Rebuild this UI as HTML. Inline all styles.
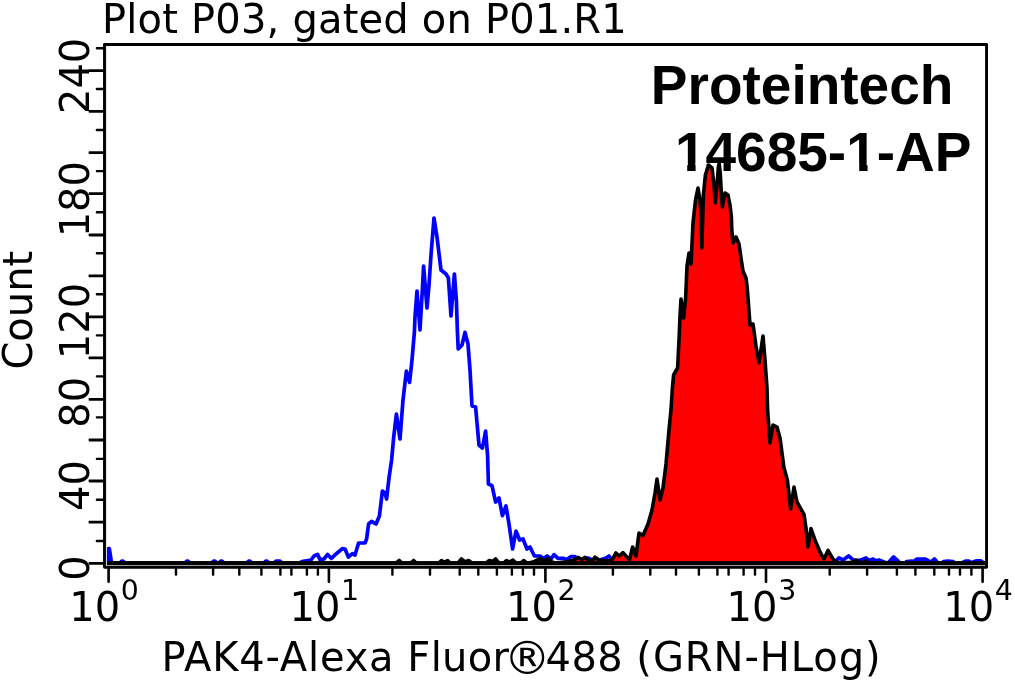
<!DOCTYPE html>
<html><head><meta charset="utf-8"><title>Plot P03, gated on P01.R1</title>
<style>
html,body{margin:0;padding:0;background:#fff;}
svg{display:block;}
text{font-family:"DejaVu Sans","Liberation Sans",sans-serif;fill:#000;}
.b{font-family:"Liberation Sans",sans-serif;font-weight:bold;}
</style></head><body>
<svg width="1015" height="682" viewBox="0 0 1015 682">
<rect width="1015" height="682" fill="#fff"/>
<text id="title" x="102" y="33.3" font-size="40" textLength="524.8" lengthAdjust="spacing">Plot P03, gated on P01.R1</text>
<text id="b1" class="b" x="650.8" y="103.7" font-size="55">Proteintech</text>
<text id="b2" class="b" x="674.9" y="170.8" font-size="55">14685-1-AP</text>
<rect x="676" y="163.2" width="11.2" height="8" fill="#fff"/><rect x="695.6" y="163.2" width="10" height="8" fill="#fff"/><rect x="848" y="163.2" width="11.2" height="8" fill="#fff"/><rect x="867.6" y="163.2" width="9.4" height="8" fill="#fff"/>
<polyline points="108.3,563.3 108.3,548.5 109.3,548.5 111.6,563.3 119.4,563.3 121.8,561.0 123.0,561.0 125.4,563.3 184.4,563.3 186.8,561.0 188.0,561.0 190.4,563.3 211.3,563.3 213.7,561.0 214.9,561.0 217.3,563.3 218.4,563.3 220.8,561.0 222.0,561.0 224.4,563.3 246.3,563.3 248.7,561.0 249.9,561.0 252.3,563.3 263.4,563.3 265.8,561.0 267.0,561.0 269.4,563.3 273.5,563.3 276.0,561.0 280.0,561.0 282.5,563.3 299.0,563.3 302.0,561.5 311.0,560.0 314.0,556.0 317.6,554.4 320.0,559.6 324.0,559.0 327.6,554.4 331.4,558.4 336.0,554.0 342.4,548.6 345.0,549.0 348.4,557.0 352.4,553.6 355.0,555.0 358.6,543.0 365.0,543.0 366.6,539.0 368.6,524.0 371.6,521.4 376.0,524.0 379.4,516.0 382.4,491.0 385.0,493.0 386.6,499.0 389.0,478.0 391.6,460.0 393.6,438.0 396.4,414.0 400.0,439.0 403.0,400.0 406.4,371.0 409.6,382.4 412.0,360.0 414.4,332.0 415.0,317.0 417.0,291.0 420.0,330.0 422.4,289.0 423.6,266.0 427.0,308.0 429.0,285.0 431.0,255.0 434.0,218.0 437.0,237.0 441.0,270.0 446.0,274.0 448.4,278.0 451.0,316.0 454.4,274.0 456.4,301.0 457.4,331.0 458.2,349.0 462.0,345.0 465.0,332.4 468.0,344.0 470.0,370.0 472.0,406.0 475.6,407.0 479.0,445.0 482.4,448.0 485.6,431.0 487.6,456.0 488.4,484.0 492.0,485.6 495.6,502.0 499.0,498.0 502.4,515.6 506.0,506.0 509.0,524.0 512.6,549.0 516.0,531.0 519.6,540.0 523.0,539.0 527.0,549.0 530.0,547.0 534.4,556.0 540.0,556.0 543.6,558.4 547.0,556.0 551.0,559.0 554.0,554.6 558.0,558.4 564.0,558.4 567.0,559.6 571.0,556.6 575.0,556.6 579.0,560.0 588.0,558.0 592.0,560.0 600.0,560.0 606.0,558.0 609.0,556.0 612.0,560.0 615.0,563.3 833.0,563.3 836.0,560.9 839.0,557.9 843.0,559.9 848.6,555.9 853.0,559.9 857.0,560.9 861.0,559.9 866.0,557.9 869.0,560.4 873.0,559.1 876.0,560.9 879.0,560.1 884.0,561.9 886.5,563.3 888.5,562.4 893.5,556.9 899.0,561.9 901.0,563.3 905.5,563.3 906.5,561.5 912.0,561.1 913.5,562.1 915.0,560.4 917.0,559.1 925.5,559.1 928.0,560.4 930.0,562.4 931.5,561.4 934.5,559.0 937.5,562.4 939.0,563.3 942.5,563.3 943.5,561.5 948.0,561.1 953.0,561.5 954.5,563.3 962.5,563.3 963.5,561.9 966.0,561.0 969.0,561.0 970.5,562.4 971.8,563.3 973.0,562.0 976.0,560.9 981.0,560.9 983.0,562.4 985.0,563.3" fill="none" stroke="#0000ff" stroke-width="3.7" stroke-linejoin="round" stroke-linecap="round"/>
<polygon points="853.0,559.9 857.0,560.9 861.0,559.9 866.0,557.9 869.0,560.4 873.0,559.1 876.0,560.9 879.0,560.1 884.0,561.9 886.5,563.3 888.5,562.4 893.5,556.9 899.0,561.9 901.0,563.3 905.5,563.3 906.5,561.5 912.0,561.1 913.5,562.1 915.0,560.4 917.0,559.1 925.5,559.1 928.0,560.4 930.0,562.4 931.5,561.4 934.5,559.0 937.5,562.4 939.0,563.3 942.5,563.3 943.5,561.5 948.0,561.1 953.0,561.5 954.5,563.3 962.5,563.3 963.5,561.9 966.0,561.0 969.0,561.0 970.5,562.4 971.8,563.3 973.0,562.0 976.0,560.9 981.0,560.9 983.0,562.4 985.0,563.3 985.0,563.3 850.0,563.3" fill="#0000ff" stroke="none"/>
<polygon points="107.0,563.2 396.0,563.2 399.3,560.5 402.0,563.2 410.5,563.2 413.6,560.5 416.5,563.2 438.5,563.2 441.4,560.5 444.5,562.0 447.6,560.5 450.5,563.2 458.0,563.2 461.4,559.0 465.0,562.0 468.6,560.5 472.0,563.2 486.0,563.2 489.3,560.5 492.5,561.5 495.7,559.0 499.0,563.2 503.5,563.2 506.4,560.5 509.5,562.0 512.9,560.0 516.0,563.2 520.5,563.2 523.6,560.5 527.0,563.2 533.0,562.0 540.0,558.5 544.0,561.0 548.0,558.5 552.0,562.0 556.0,563.2 568.0,561.5 574.0,560.0 578.0,557.4 581.5,559.5 585.0,557.4 589.0,560.8 592.0,561.2 595.0,557.2 599.0,560.0 603.0,560.5 607.0,561.0 612.0,560.0 616.0,553.0 619.0,556.0 623.0,552.6 626.0,556.0 629.6,559.6 632.6,547.0 636.0,556.0 639.0,533.0 643.0,535.5 648.0,524.0 652.0,510.0 655.0,493.0 657.0,479.0 660.0,500.0 663.0,488.0 666.0,464.0 669.0,430.0 671.0,410.0 672.4,388.0 673.6,375.0 677.6,368.0 679.0,340.0 680.0,316.0 681.0,299.0 683.6,318.0 685.6,298.0 686.4,280.0 687.0,266.0 689.0,253.0 691.0,264.0 693.0,223.0 695.5,200.0 698.0,188.0 700.0,200.0 701.4,217.0 701.8,248.0 703.4,195.0 705.4,175.0 708.4,165.0 712.0,168.0 714.0,185.0 715.2,203.0 717.0,185.0 718.4,167.0 719.2,163.5 720.4,175.0 721.4,195.0 722.4,207.0 725.0,193.0 728.0,195.0 730.0,205.0 731.4,217.0 731.8,230.0 733.0,243.0 736.0,237.0 739.0,244.0 741.0,258.0 743.0,271.0 746.0,278.0 747.0,286.0 748.0,298.0 750.0,325.0 753.0,324.0 756.0,346.0 759.0,363.0 763.0,336.0 765.0,360.0 767.0,388.0 767.6,410.0 770.0,443.0 773.0,425.0 777.0,427.0 780.0,438.0 784.0,468.0 787.4,480.0 790.6,509.0 794.0,487.0 797.0,502.0 804.0,514.5 806.0,528.0 808.0,547.0 811.0,528.5 815.0,540.0 820.0,552.0 824.0,559.0 828.0,550.4 833.0,559.0 837.0,562.5 852.0,562.5 856.0,560.0 860.0,562.5 864.0,562.5 866.0,561.0 868.0,563.2 985.0,563.2 985.0,563.2 107.0,563.2" fill="#ff0000" stroke="none"/>
<polyline points="107.0,563.2 396.0,563.2 399.3,560.5 402.0,563.2 410.5,563.2 413.6,560.5 416.5,563.2 438.5,563.2 441.4,560.5 444.5,562.0 447.6,560.5 450.5,563.2 458.0,563.2 461.4,559.0 465.0,562.0 468.6,560.5 472.0,563.2 486.0,563.2 489.3,560.5 492.5,561.5 495.7,559.0 499.0,563.2 503.5,563.2 506.4,560.5 509.5,562.0 512.9,560.0 516.0,563.2 520.5,563.2 523.6,560.5 527.0,563.2 533.0,562.0 540.0,558.5 544.0,561.0 548.0,558.5 552.0,562.0 556.0,563.2 568.0,561.5 574.0,560.0 578.0,557.4 581.5,559.5 585.0,557.4 589.0,560.8 592.0,561.2 595.0,557.2 599.0,560.0 603.0,560.5 607.0,561.0 612.0,560.0 616.0,553.0 619.0,556.0 623.0,552.6 626.0,556.0 629.6,559.6 632.6,547.0 636.0,556.0 639.0,533.0 643.0,535.5 648.0,524.0 652.0,510.0 655.0,493.0 657.0,479.0 660.0,500.0 663.0,488.0 666.0,464.0 669.0,430.0 671.0,410.0 672.4,388.0 673.6,375.0 677.6,368.0 679.0,340.0 680.0,316.0 681.0,299.0 683.6,318.0 685.6,298.0 686.4,280.0 687.0,266.0 689.0,253.0 691.0,264.0 693.0,223.0 695.5,200.0 698.0,188.0 700.0,200.0 701.4,217.0 701.8,248.0 703.4,195.0 705.4,175.0 708.4,165.0 712.0,168.0 714.0,185.0 715.2,203.0 717.0,185.0 718.4,167.0 719.2,163.5 720.4,175.0 721.4,195.0 722.4,207.0 725.0,193.0 728.0,195.0 730.0,205.0 731.4,217.0 731.8,230.0 733.0,243.0 736.0,237.0 739.0,244.0 741.0,258.0 743.0,271.0 746.0,278.0 747.0,286.0 748.0,298.0 750.0,325.0 753.0,324.0 756.0,346.0 759.0,363.0 763.0,336.0 765.0,360.0 767.0,388.0 767.6,410.0 770.0,443.0 773.0,425.0 777.0,427.0 780.0,438.0 784.0,468.0 787.4,480.0 790.6,509.0 794.0,487.0 797.0,502.0 804.0,514.5 806.0,528.0 808.0,547.0 811.0,528.5 815.0,540.0 820.0,552.0 824.0,559.0 828.0,550.4 833.0,559.0 837.0,562.5 852.0,562.5 856.0,560.0 860.0,562.5 864.0,562.5 866.0,561.0 868.0,563.2 985.0,563.2" fill="none" stroke="#000" stroke-width="3.6" stroke-linejoin="round" stroke-linecap="butt"/>
<rect x="107" y="561.1" width="878.2" height="3.95" fill="#000"/>
<rect x="106" y="565" width="879.2" height="1" fill="#9c9c9c"/>
<rect x="106" y="46" width="0.9" height="519.5" fill="#e4e4e4"/>
<rect x="104.5" y="44.5" width="882.05" height="522.85" fill="none" stroke="#000" stroke-width="2.9" stroke-linejoin="round"/>
<rect x="88.6" y="69.30" width="15.5" height="2.8" rx="0.8" fill="#000"/>
<rect x="88.6" y="110.00" width="15.5" height="2.8" rx="0.8" fill="#000"/>
<rect x="88.6" y="151.20" width="15.5" height="2.8" rx="0.8" fill="#000"/>
<rect x="88.6" y="192.20" width="15.5" height="2.8" rx="0.8" fill="#000"/>
<rect x="88.6" y="233.60" width="15.5" height="2.8" rx="0.8" fill="#000"/>
<rect x="88.6" y="274.50" width="15.5" height="2.8" rx="0.8" fill="#000"/>
<rect x="88.6" y="315.50" width="15.5" height="2.8" rx="0.8" fill="#000"/>
<rect x="88.6" y="356.50" width="15.5" height="2.8" rx="0.8" fill="#000"/>
<rect x="88.6" y="397.90" width="15.5" height="2.8" rx="0.8" fill="#000"/>
<rect x="88.6" y="438.60" width="15.5" height="2.8" rx="0.8" fill="#000"/>
<rect x="88.6" y="479.60" width="15.5" height="2.8" rx="0.8" fill="#000"/>
<rect x="88.6" y="520.70" width="15.5" height="2.8" rx="0.8" fill="#000"/>
<rect x="88.6" y="561.90" width="15.5" height="2.8" rx="0.8" fill="#000"/>
<rect x="95.8" y="47.10" width="8.2" height="2.4" rx="0.8" fill="#000"/>
<rect x="95.8" y="87.80" width="8.2" height="2.4" rx="0.8" fill="#000"/>
<rect x="95.8" y="128.80" width="8.2" height="2.4" rx="0.8" fill="#000"/>
<rect x="95.8" y="169.90" width="8.2" height="2.4" rx="0.8" fill="#000"/>
<rect x="95.8" y="211.10" width="8.2" height="2.4" rx="0.8" fill="#000"/>
<rect x="95.8" y="252.10" width="8.2" height="2.4" rx="0.8" fill="#000"/>
<rect x="95.8" y="293.10" width="8.2" height="2.4" rx="0.8" fill="#000"/>
<rect x="95.8" y="334.20" width="8.2" height="2.4" rx="0.8" fill="#000"/>
<rect x="95.8" y="375.20" width="8.2" height="2.4" rx="0.8" fill="#000"/>
<rect x="95.8" y="416.20" width="8.2" height="2.4" rx="0.8" fill="#000"/>
<rect x="95.8" y="457.70" width="8.2" height="2.4" rx="0.8" fill="#000"/>
<rect x="95.8" y="498.50" width="8.2" height="2.4" rx="0.8" fill="#000"/>
<rect x="95.8" y="539.80" width="8.2" height="2.4" rx="0.8" fill="#000"/>
<rect x="107.30" y="568" width="2.6" height="14.9" rx="0.8" fill="#000"/>
<rect x="327.60" y="568" width="2.6" height="14.9" rx="0.8" fill="#000"/>
<rect x="544.10" y="568" width="2.6" height="14.9" rx="0.8" fill="#000"/>
<rect x="764.70" y="568" width="2.6" height="14.9" rx="0.8" fill="#000"/>
<rect x="981.30" y="568" width="2.6" height="14.9" rx="0.8" fill="#000"/>
<rect x="174.80" y="568" width="2.4" height="7.8" rx="0.8" fill="#000"/>
<rect x="211.90" y="568" width="2.4" height="7.8" rx="0.8" fill="#000"/>
<rect x="238.10" y="568" width="2.4" height="7.8" rx="0.8" fill="#000"/>
<rect x="260.20" y="568" width="2.4" height="7.8" rx="0.8" fill="#000"/>
<rect x="279.20" y="568" width="2.4" height="7.8" rx="0.8" fill="#000"/>
<rect x="290.20" y="568" width="2.4" height="7.8" rx="0.8" fill="#000"/>
<rect x="305.70" y="568" width="2.4" height="7.8" rx="0.8" fill="#000"/>
<rect x="316.70" y="568" width="2.4" height="7.8" rx="0.8" fill="#000"/>
<rect x="391.20" y="568" width="2.4" height="7.8" rx="0.8" fill="#000"/>
<rect x="428.80" y="568" width="2.4" height="7.8" rx="0.8" fill="#000"/>
<rect x="458.50" y="568" width="2.4" height="7.8" rx="0.8" fill="#000"/>
<rect x="477.10" y="568" width="2.4" height="7.8" rx="0.8" fill="#000"/>
<rect x="495.70" y="568" width="2.4" height="7.8" rx="0.8" fill="#000"/>
<rect x="510.70" y="568" width="2.4" height="7.8" rx="0.8" fill="#000"/>
<rect x="521.70" y="568" width="2.4" height="7.8" rx="0.8" fill="#000"/>
<rect x="532.80" y="568" width="2.4" height="7.8" rx="0.8" fill="#000"/>
<rect x="611.70" y="568" width="2.4" height="7.8" rx="0.8" fill="#000"/>
<rect x="649.10" y="568" width="2.4" height="7.8" rx="0.8" fill="#000"/>
<rect x="674.80" y="568" width="2.4" height="7.8" rx="0.8" fill="#000"/>
<rect x="697.70" y="568" width="2.4" height="7.8" rx="0.8" fill="#000"/>
<rect x="716.20" y="568" width="2.4" height="7.8" rx="0.8" fill="#000"/>
<rect x="727.40" y="568" width="2.4" height="7.8" rx="0.8" fill="#000"/>
<rect x="742.40" y="568" width="2.4" height="7.8" rx="0.8" fill="#000"/>
<rect x="753.80" y="568" width="2.4" height="7.8" rx="0.8" fill="#000"/>
<rect x="828.50" y="568" width="2.4" height="7.8" rx="0.8" fill="#000"/>
<rect x="865.90" y="568" width="2.4" height="7.8" rx="0.8" fill="#000"/>
<rect x="895.70" y="568" width="2.4" height="7.8" rx="0.8" fill="#000"/>
<rect x="914.20" y="568" width="2.4" height="7.8" rx="0.8" fill="#000"/>
<rect x="933.10" y="568" width="2.4" height="7.8" rx="0.8" fill="#000"/>
<rect x="947.80" y="568" width="2.4" height="7.8" rx="0.8" fill="#000"/>
<rect x="958.80" y="568" width="2.4" height="7.8" rx="0.8" fill="#000"/>
<rect x="970.20" y="568" width="2.4" height="7.8" rx="0.8" fill="#000"/>
<text id="yl0" transform="translate(89,75.9) rotate(-90)" font-size="40" text-anchor="middle">240</text>
<text id="yl1" transform="translate(89,199.2) rotate(-90)" font-size="40" text-anchor="middle">180</text>
<text id="yl2" transform="translate(89,321.0) rotate(-90)" font-size="40" text-anchor="middle">120</text>
<text id="yl3" transform="translate(89,402.3) rotate(-90)" font-size="40" text-anchor="middle">80</text>
<text id="yl4" transform="translate(89,485.6) rotate(-90)" font-size="40" text-anchor="middle">40</text>
<text id="yl5" transform="translate(89,568.1) rotate(-90)" font-size="40" text-anchor="middle">0</text>
<text id="count" transform="translate(31.5,369.6) rotate(-90)" font-size="40">Count</text>
<text id="xl0" x="120.1" y="621" font-size="40" text-anchor="end">10</text>
<text id="xs0" x="120.8" y="600" font-size="28.4">0</text>
<text id="xl1" x="340.4" y="621" font-size="40" text-anchor="end">10</text>
<text id="xs1" x="341.1" y="600" font-size="28.4">1</text>
<text id="xl2" x="556.9" y="621" font-size="40" text-anchor="end">10</text>
<text id="xs2" x="557.6" y="600" font-size="28.4">2</text>
<text id="xl3" x="777.5" y="621" font-size="40" text-anchor="end">10</text>
<text id="xs3" x="778.2" y="600" font-size="28.4">3</text>
<text id="xl4" x="994.1" y="621" font-size="40" text-anchor="end">10</text>
<text id="xs4" x="994.8" y="600" font-size="28.4">4</text>
<text id="xa" x="161.60" y="671.4" font-size="40" textLength="232.03" lengthAdjust="spacing">PAK4-Alexa</text>
<text id="xb" x="407.35" y="671.4" font-size="40" textLength="101.49" lengthAdjust="spacing">Fluor</text>
<text id="xc" x="503.70" y="674.2" font-size="47">®</text>
<text id="xd" x="545.50" y="671.4" font-size="40" textLength="77.25" lengthAdjust="spacing">488</text>
<text id="xe" x="636.35" y="671.4" font-size="40" textLength="244.28" lengthAdjust="spacing">(GRN-HLog)</text>
</svg></body></html>
